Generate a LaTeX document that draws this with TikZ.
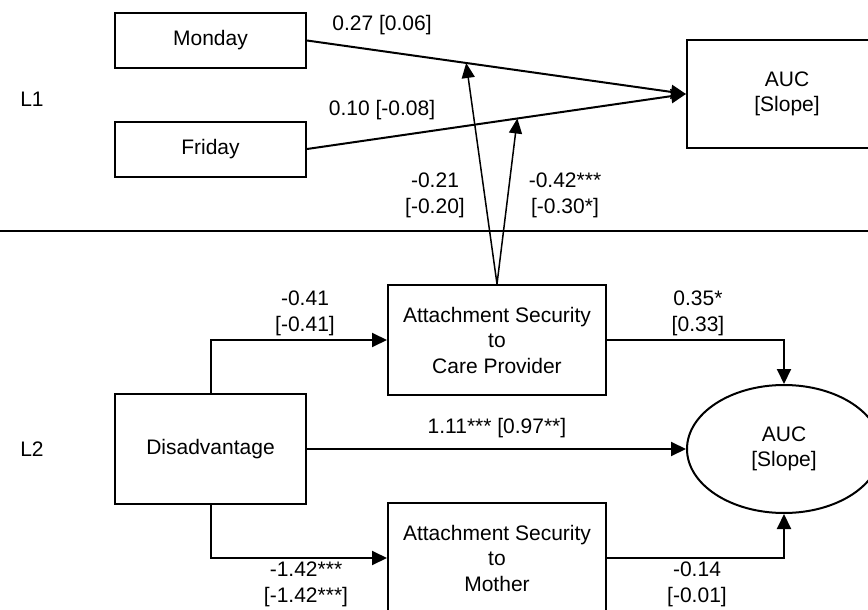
\documentclass[tikz,border=0pt]{standalone}
\usepackage{fontspec}
\setmainfont{Liberation Sans}
\usetikzlibrary{arrows.meta,shapes.geometric}

\begin{document}
\begin{tikzpicture}[x=1pt, y=-1pt,
  every node/.style={font=\fontsize{21}{25.5}\selectfont, align=center, inner sep=0pt},
  box/.style={draw, line width=2pt, minimum width=191pt, minimum height=55pt},
  bigbox/.style={draw, line width=2pt, minimum width=218pt, minimum height=110pt},
  arr/.style={line width=2pt, -{Triangle[length=15pt,width=14pt]}},
  modarr/.style={line width=1.5pt, -{Triangle[length=15pt,width=13pt]}}]
  \useasboundingbox (0,0) rectangle (868,610);
  \clip (0,0) rectangle (868,610);

  % -=-=-=-=- LEVEL 1 -=-=-=-=-
  \node (l1) at (32,99) {L1};
  \node[box] (mon) at (210.5,40.5) {Monday};
  \node[box] (fri) at (210.5,149) {Friday};
  \node[draw, line width=2pt, minimum width=200pt, minimum height=108pt] (auc1) at (787,94) {AUC\\{[Slope]}};

  \draw[arr] (mon.east) -- coordinate[pos=0.42] (monmod) (auc1.west);
  \draw[arr] (fri.east) -- coordinate[pos=0.555] (frimod) (auc1.west);
  \node (monlab) at (382,25) {0.27 [0.06]};
  \node (frilab) at (382,110) {0.10 [-0.08]};

  % -=-=-=-=- SEPARATOR -=-=-=-=-
  \coordinate (sepl) at (0,231);
  \coordinate (sepr) at (868,231);
  \draw[line width=1.2pt] (sepl) -- (sepr);

  % -=-=-=-=- LEVEL 2 -=-=-=-=-
  \node (l2) at (32,449) {L2};
  \node[draw, line width=2pt, minimum width=191pt, minimum height=110pt] (dis) at (210.5,449) {Disadvantage};
  \node[bigbox] (care) at (497,340) {Attachment Security\\to\\Care Provider};
  \node[bigbox] (moth) at (497,558) {Attachment Security\\to\\Mother};
  \node[ellipse, draw, line width=2pt, minimum width=194pt, minimum height=128pt] (auc2) at (784,449) {AUC\\{[Slope]}};

  \draw[arr] (dis.north) |- (care.west);
  \draw[arr] (dis.south) |- (moth.west);
  \draw[arr] (dis.east) -- (auc2.west);
  \draw[arr] (care.east) -| (auc2.north);
  \draw[arr] (moth.east) -| (auc2.south);
  \draw[modarr] (care.north) -- (monmod);
  \draw[modarr] (care.north) -- (frimod);

  \node (modalab) at (435,195.5) {-0.21\\{[-0.20]}};
  \node (modblab) at (565,195.5) {-0.42***\\{[-0.30*]}};
  \node (carelab) at (305,313.5) {-0.41\\{[-0.41]}};
  \node (caretolab) at (698,313.5) {0.35*\\{[0.33]}};
  \node (dislab) at (497,428) {1.11*** [0.97**]};
  \node (mothlab) at (306,584.5) {-1.42***\\{[-1.42***]}};
  \node (mothtolab) at (697,584.5) {-0.14\\{[-0.01]}};
\end{tikzpicture}
\end{document}
